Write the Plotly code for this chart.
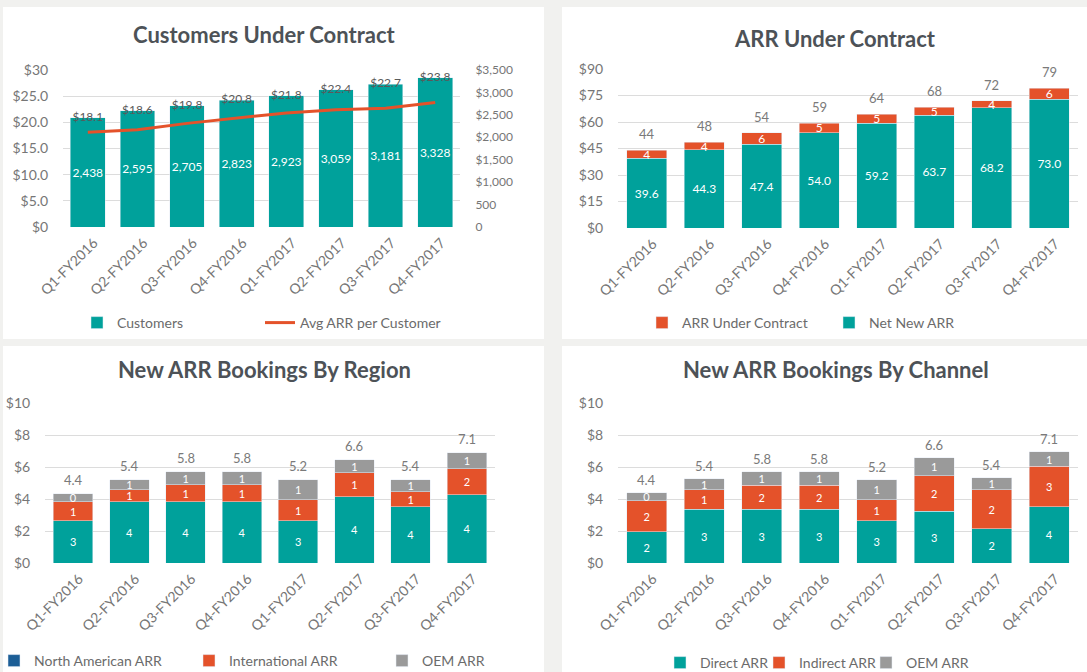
import plotly.graph_objects as go

W, H = 1087, 672

quarters = ["Q1-FY2016", "Q2-FY2016", "Q3-FY2016", "Q4-FY2016",
            "Q1-FY2017", "Q2-FY2017", "Q3-FY2017", "Q4-FY2017"]

# Chart 1: Customers Under Contract
customers = [2438, 2595, 2705, 2823, 2923, 3059, 3181, 3328]
avg_arr = [18.1, 18.6, 19.8, 20.8, 21.8, 22.4, 22.7, 23.8]
left_tickvals = [0, 5, 10, 15, 20, 25, 30]
left_ticktext = ["$0", "$5.0", "$10.0", "$15.0", "$20.0", "$25.0", "$30"]
right_tickvals = [0, 500, 1000, 1500, 2000, 2500, 3000, 3500]
right_ticktext = ["0", "500", "$1,000", "$1,500", "$2,000", "$2,500", "$3,000", "$3,500"]

# Chart 2: ARR Under Contract
net_new_arr = [39.6, 44.3, 47.4, 54.0, 59.2, 63.7, 68.2, 73.0]
arr_under_contract = [4.4, 4.1, 6.4, 5.4, 5.2, 4.6, 3.8, 6.0]
arr_totals = ["44", "48", "54", "59", "64", "68", "72", "79"]

# Chart 3: New ARR Bookings By Region
region_na = [2.65, 3.83, 3.83, 3.83, 2.65, 4.15, 3.52, 4.27]
region_intl = [1.18, 0.75, 1.07, 1.07, 1.31, 1.49, 0.94, 1.63]
region_oem = [0.49, 0.63, 0.81, 0.81, 1.25, 0.81, 0.75, 1.00]
region_totals = ["4.4", "5.4", "5.8", "5.8", "5.2", "6.6", "5.4", "7.1"]

# Chart 4: New ARR Bookings By Channel
channel_direct = [1.96, 3.35, 3.35, 3.35, 2.65, 3.23, 2.15, 3.52]
channel_indirect = [1.94, 1.23, 1.52, 1.52, 1.31, 2.23, 2.43, 2.52]
channel_oem = [0.49, 0.69, 0.82, 0.82, 1.25, 1.12, 0.75, 0.92]
channel_totals = ["4.4", "5.4", "5.8", "5.8", "5.2", "6.6", "5.4", "7.1"]

TEAL = "#00a19b"
ORANGE = "#e4522a"
GRAY = "#9a9a9a"
BLUE = "#1c5e96"
FONT = "Lato, Open Sans, sans-serif"
TICK_COLOR = "#767676"
GRID = "#dcdcdc"
TITLE_COLOR = "#4d5257"


def px_x(v):
    return v / W


def px_y(v):
    return 1 - v / H


fig = go.Figure()


def seg_text(size):
    return dict(textposition="inside", insidetextanchor="middle", textangle=0,
                constraintext="none", textfont=dict(color="white", size=size, family=FONT))


# ---- Chart 1 (base axis y = left $ scale; bars on overlay y2; line on overlay y6)
# invisible anchor trace so that the base subplot (x, y) exists
fig.add_trace(go.Scatter(x=quarters, y=avg_arr, mode="lines", opacity=0,
                         line=dict(width=0, color=ORANGE), showlegend=False,
                         hoverinfo="skip", xaxis="x", yaxis="y"))
fig.add_trace(go.Bar(x=quarters, y=customers, name="Customers", marker_color=TEAL,
                     texttemplate="%{y:,}", xaxis="x", yaxis="y2", legend="legend",
                     legendrank=1, **seg_text(12)))
fig.add_trace(go.Scatter(x=quarters, y=customers, customdata=avg_arr, mode="text",
                         texttemplate="$%{customdata:.1f}", textposition="middle center",
                         textfont=dict(color="#5a5a5a", size=12, family=FONT),
                         showlegend=False, xaxis="x", yaxis="y2"))
fig.add_trace(go.Scatter(x=quarters, y=avg_arr, mode="lines", name="Avg ARR per Customer",
                         line=dict(color=ORANGE, width=3), xaxis="x", yaxis="y6",
                         legend="legend", legendrank=2))

# ---- Chart 2
fig.add_trace(go.Bar(x=quarters, y=net_new_arr, name="Net New ARR", marker_color=TEAL,
                     texttemplate="%{y:.1f}", xaxis="x2", yaxis="y3", legend="legend2",
                     legendrank=2, **seg_text(12)))
fig.add_trace(go.Bar(x=quarters, y=arr_under_contract, name="ARR Under Contract",
                     marker_color=ORANGE, texttemplate="%{y:.0f}", xaxis="x2", yaxis="y3",
                     legend="legend2", legendrank=1, **seg_text(12)))

# ---- Chart 3
fig.add_trace(go.Bar(x=quarters, y=region_na, name="North American ARR", marker_color=TEAL,
                     texttemplate="%{y:.0f}", xaxis="x3", yaxis="y4", showlegend=False,
                     **seg_text(11)))
fig.add_trace(go.Bar(x=[None], y=[None], name="North American ARR", marker_color=BLUE,
                     xaxis="x3", yaxis="y4", legend="legend3", legendrank=1,
                     legendwidth=150))
fig.add_trace(go.Bar(x=quarters, y=region_intl, name="International ARR", marker_color=ORANGE,
                     texttemplate="%{y:.0f}", xaxis="x3", yaxis="y4", legend="legend3",
                     legendrank=2, legendwidth=148, **seg_text(11)))
fig.add_trace(go.Bar(x=quarters, y=region_oem, name="OEM ARR", marker_color=GRAY,
                     texttemplate="%{y:.0f}", xaxis="x3", yaxis="y4", legend="legend3",
                     legendrank=3, **seg_text(11)))

# ---- Chart 4
fig.add_trace(go.Bar(x=quarters, y=channel_direct, name="Direct ARR", marker_color=TEAL,
                     texttemplate="%{y:.0f}", xaxis="x4", yaxis="y5", legend="legend4",
                     legendrank=1, legendwidth=54, **seg_text(11)))
fig.add_trace(go.Bar(x=quarters, y=channel_indirect, name="Indirect ARR", marker_color=ORANGE,
                     texttemplate="%{y:.0f}", xaxis="x4", yaxis="y5", legend="legend4",
                     legendrank=2, legendwidth=62, **seg_text(11)))
fig.add_trace(go.Bar(x=quarters, y=channel_oem, name="OEM ARR", marker_color=GRAY,
                     texttemplate="%{y:.0f}", xaxis="x4", yaxis="y5", legend="legend4",
                     legendrank=3, **seg_text(11)))

annotations = []
label_font = dict(color="#7a7a7a", size=13, family=FONT)
for i, q in enumerate(quarters):
    annotations.append(dict(x=q, y=net_new_arr[i] + arr_under_contract[i], xref="x2", yref="y3",
                            text=arr_totals[i], showarrow=False, yanchor="bottom", yshift=6,
                            font=label_font))
    annotations.append(dict(x=q, y=region_na[i] + region_intl[i] + region_oem[i], xref="x3",
                            yref="y4", text=region_totals[i], showarrow=False, yanchor="bottom",
                            yshift=4, font=label_font))
    annotations.append(dict(x=q, y=channel_direct[i] + channel_indirect[i] + channel_oem[i],
                            xref="x4", yref="y5", text=channel_totals[i], showarrow=False,
                            yanchor="bottom", yshift=3, font=label_font))

titles = [("Customers Under Contract", 264, 34), ("ARR Under Contract", 835, 38),
          ("New ARR Bookings By Region", 264, 369), ("New ARR Bookings By Channel", 836, 369)]
for t, cx, cy in titles:
    annotations.append(dict(text="<b>" + t + "</b>", x=px_x(cx), y=px_y(cy), xref="paper",
                            yref="paper", showarrow=False, xanchor="center", yanchor="middle",
                            font=dict(size=22, color=TITLE_COLOR, family=FONT)))

panels = [(3, 7, 544, 339), (562, 7, 1087, 339), (3, 346, 544, 672), (562, 346, 1087, 672)]
shapes = [dict(type="rect", xref="paper", yref="paper", x0=px_x(a), x1=px_x(c),
               y0=px_y(d), y1=px_y(b), fillcolor="white", line_width=0, layer="below")
          for a, b, c, d in panels]

xcommon = dict(type="category", tickangle=-45, showgrid=False, zeroline=False, showline=False,
               ticks="", automargin=False, ticklabelstandoff=4, ticklabelshift=6,
               tickfont=dict(size=14, color=TICK_COLOR, family=FONT))
ycommon = dict(showgrid=True, gridcolor=GRID, gridwidth=1, zeroline=False, showline=False,
               automargin=False, ticks="outside", ticklen=11, tickcolor="rgba(0,0,0,0)",
               tickfont=dict(size=14, color=TICK_COLOR, family=FONT))

legend_font = dict(size=14, color="#6b6b6b", family=FONT)
legend_common = dict(orientation="h", font=legend_font, bgcolor="rgba(0,0,0,0)",
                     traceorder="normal", yanchor="top")

fig.update_layout(
    width=W, height=H, autosize=False,
    margin=dict(l=0, r=0, t=0, b=0, autoexpand=False),
    paper_bgcolor="#f1f1ef", plot_bgcolor="rgba(0,0,0,0)",
    barmode="stack", bargap=0.3,
    font=dict(family=FONT, color=TICK_COLOR),
    shapes=shapes, annotations=annotations,
    xaxis=dict(domain=[px_x(63), px_x(460)], anchor="y", **xcommon),
    yaxis=dict(domain=[px_y(227), px_y(70)], anchor="x", side="left", range=[0, 30],
               tickvals=left_tickvals, ticktext=left_ticktext, **ycommon),
    yaxis2=dict(overlaying="y", anchor="x", side="right", range=[0, 3500],
                tickvals=right_tickvals, ticktext=right_ticktext, showgrid=False,
                zeroline=False, showline=False, automargin=False,
                ticks="outside", ticklen=12, tickcolor="rgba(0,0,0,0)",
                tickfont=dict(size=12, color=TICK_COLOR, family=FONT)),
    yaxis6=dict(overlaying="y", anchor="x", side="left", range=[0, 30], visible=False,
                showgrid=False, zeroline=False),
    xaxis2=dict(domain=[px_x(618), px_x(1078)], anchor="y3", **xcommon),
    yaxis3=dict(domain=[px_y(228), px_y(69)], anchor="x2", range=[0, 90], dtick=15,
                tickprefix="$", **ycommon),
    xaxis3=dict(domain=[px_x(45), px_x(495)], anchor="y4", **xcommon),
    yaxis4=dict(domain=[px_y(563), px_y(403)], anchor="x3", range=[0, 10], dtick=2,
                tickprefix="$", **ycommon),
    xaxis4=dict(domain=[px_x(618), px_x(1078)], anchor="y5", **xcommon),
    yaxis5=dict(domain=[px_y(563), px_y(403)], anchor="x4", range=[0, 10], dtick=2,
                tickprefix="$", **ycommon),
    legend=dict(x=px_x(77), y=px_y(307), xanchor="left", entrywidth=138, **legend_common),
    legend2=dict(x=px_x(642), y=px_y(307), xanchor="left", entrywidth=142, **legend_common),
    legend3=dict(x=px_x(-6), y=px_y(645), xanchor="left", **legend_common),
    legend4=dict(x=px_x(660), y=px_y(647), xanchor="left", **legend_common),
)

fig.write_html("out.html")
